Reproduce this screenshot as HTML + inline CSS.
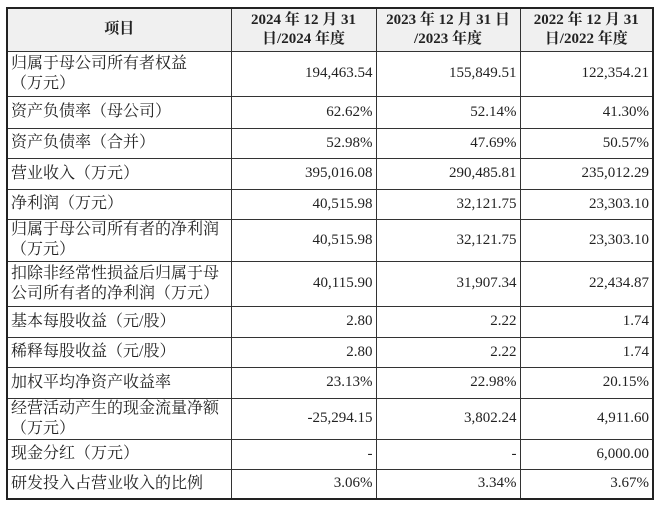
<!DOCTYPE html>
<html><head><meta charset="utf-8"><style>
html,body{margin:0;padding:0;background:#fff;width:660px;height:505px;overflow:hidden}
table{position:absolute;left:6px;top:7px;border-collapse:collapse;border:2px solid #222;font-family:"Liberation Serif","Noto Serif CJK SC",serif;font-size:15px;color:#222;table-layout:fixed}
td{border:1.5px solid #333;padding:0 3px;line-height:19px}
tbody td:first-child{font-size:16px;line-height:20px;white-space:nowrap}
td.n{text-align:right}
thead td{background:#f0f0f0;font-weight:bold;text-align:center;font-size:15px}
</style></head><body>
<table>
<colgroup><col style="width:224px"><col style="width:145px"><col style="width:144px"><col style="width:133px"></colgroup>
<thead><tr style="height:43px"><td>项目</td><td>2024 年 12 月 31<br>日/2024 年度</td><td>2023 年 12 月 31 日<br>/2023 年度</td><td>2022 年 12 月 31<br>日/2022 年度</td></tr></thead>
<tbody>
<tr style="height:45px"><td>归属于母公司所有者权益<br>（万元）</td><td class="n">194,463.54</td><td class="n">155,849.51</td><td class="n">122,354.21</td></tr>
<tr style="height:32px"><td>资产负债率（母公司）</td><td class="n">62.62%</td><td class="n">52.14%</td><td class="n">41.30%</td></tr>
<tr style="height:30px"><td>资产负债率（合并）</td><td class="n">52.98%</td><td class="n">47.69%</td><td class="n">50.57%</td></tr>
<tr style="height:31px"><td>营业收入（万元）</td><td class="n">395,016.08</td><td class="n">290,485.81</td><td class="n">235,012.29</td></tr>
<tr style="height:30px"><td>净利润（万元）</td><td class="n">40,515.98</td><td class="n">32,121.75</td><td class="n">23,303.10</td></tr>
<tr style="height:42px"><td>归属于母公司所有者的净利润<br>（万元）</td><td class="n">40,515.98</td><td class="n">32,121.75</td><td class="n">23,303.10</td></tr>
<tr style="height:45px"><td>扣除非经常性损益后归属于母<br>公司所有者的净利润（万元）</td><td class="n">40,115.90</td><td class="n">31,907.34</td><td class="n">22,434.87</td></tr>
<tr style="height:31px"><td>基本每股收益（元/股）</td><td class="n">2.80</td><td class="n">2.22</td><td class="n">1.74</td></tr>
<tr style="height:30px"><td>稀释每股收益（元/股）</td><td class="n">2.80</td><td class="n">2.22</td><td class="n">1.74</td></tr>
<tr style="height:31px"><td>加权平均净资产收益率</td><td class="n">23.13%</td><td class="n">22.98%</td><td class="n">20.15%</td></tr>
<tr style="height:40px"><td>经营活动产生的现金流量净额<br>（万元）</td><td class="n">-25,294.15</td><td class="n">3,802.24</td><td class="n">4,911.60</td></tr>
<tr style="height:30px"><td>现金分红（万元）</td><td class="n">-</td><td class="n">-</td><td class="n">6,000.00</td></tr>
<tr style="height:30px"><td>研发投入占营业收入的比例</td><td class="n">3.06%</td><td class="n">3.34%</td><td class="n">3.67%</td></tr>
</tbody></table>
</body></html>
